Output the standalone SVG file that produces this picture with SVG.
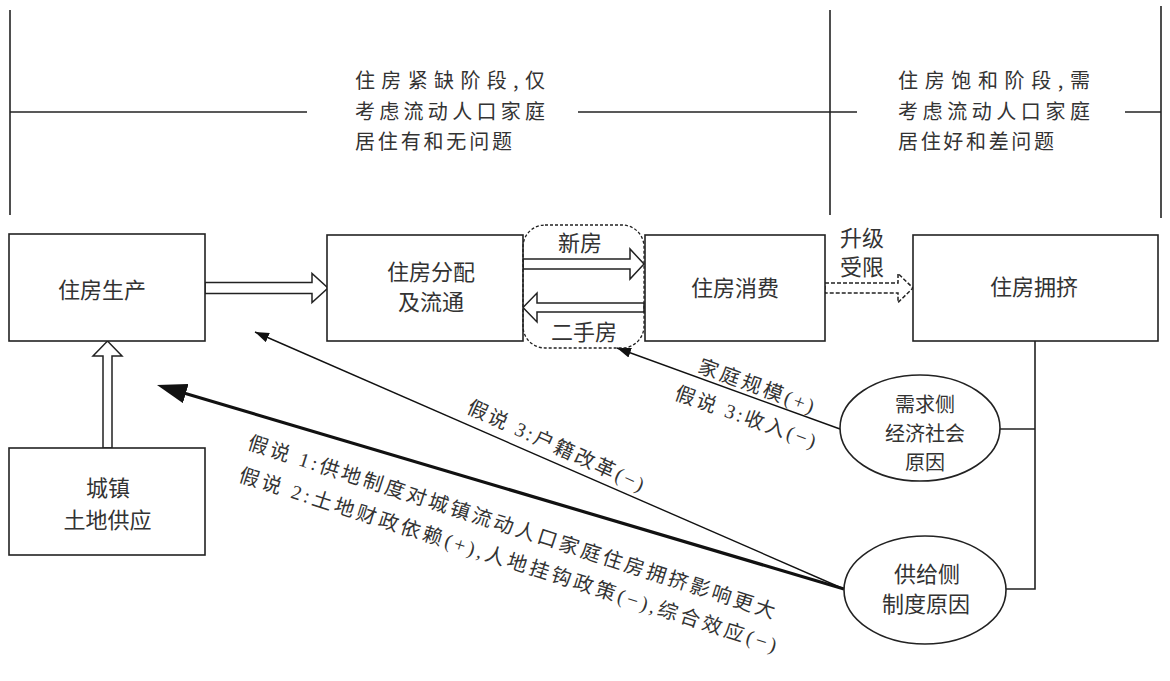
<svg xmlns="http://www.w3.org/2000/svg" width="1170" height="681" viewBox="0 0 1170 681">
<style>
.box{fill:#fff;stroke:#222;stroke-width:1.6}
.ell{fill:#fff;stroke:#222;stroke-width:1.6}
.ln{fill:none;stroke:#222;stroke-width:1.6}
.hollow{fill:#fff;stroke:#222;stroke-width:1.5;stroke-linejoin:miter}
.dash{stroke-dasharray:4 2}
.t{font-family:"Noto Sans CJK SC","Noto Sans",sans-serif;font-size:22px;fill:#333;text-anchor:middle}
.ts{font-size:20px}
.tl{font-family:"Noto Sans CJK SC","Noto Sans",sans-serif;font-size:20px;fill:#333}
.lab{font-family:"Liberation Serif","Noto Sans CJK SC",serif;font-size:20px;fill:#333;text-anchor:middle}
</style>
<defs>
<marker id="ahS" markerUnits="userSpaceOnUse" markerWidth="14" markerHeight="10" viewBox="0 0 14 10" refX="14" refY="5" orient="auto"><path d="M0,0 L14,5 L0,10 z" fill="#111"/></marker>
<marker id="ahL" markerUnits="userSpaceOnUse" markerWidth="30" markerHeight="20" viewBox="0 0 30 20" refX="10" refY="10" orient="auto"><path d="M0,0 L30,10 L0,20 z" fill="#111"/></marker>
</defs>
<rect width="1170" height="681" fill="#fff"/>

<g id="stages">
<line class="ln" x1="10" y1="10" x2="10" y2="215"/>
<line class="ln" x1="830" y1="10" x2="830" y2="215"/>
<line class="ln" x1="1161" y1="6" x2="1161" y2="218"/>
<line class="ln" x1="10" y1="112" x2="307" y2="112"/>
<line class="ln" x1="578" y1="112" x2="857" y2="112"/>
<line class="ln" x1="1125" y1="112" x2="1161" y2="112"/>
<text class="tl" x="355" y="88" textLength="190" lengthAdjust="spacing">住房紧缺阶段,仅</text>
<text class="tl" x="355" y="119" textLength="190" lengthAdjust="spacing">考虑流动人口家庭</text>
<text class="tl" x="355" y="149" textLength="157" lengthAdjust="spacing">居住有和无问题</text>
<text class="tl" x="898" y="88" textLength="192" lengthAdjust="spacing">住房饱和阶段,需</text>
<text class="tl" x="898" y="119" textLength="192" lengthAdjust="spacing">考虑流动人口家庭</text>
<text class="tl" x="898" y="149" textLength="156" lengthAdjust="spacing">居住好和差问题</text>
</g>

<g id="connectors">
<polygon class="hollow" points="205,282.5 312,282.5 312,273.5 328,288 312,302.5 312,293.5 205,293.5"/>
<polygon class="hollow" points="523,259 630,259 630,249 644,264 630,279 630,269 523,269"/>
<polygon class="hollow" points="644,303 537,303 537,293 523,307.5 537,322 537,312 644,312"/>
<polygon class="hollow" points="103,448 103,356 93,356 107.5,341 122,356 112,356 112,448"/>
<polygon class="hollow dash" points="825,283 898,283 898,273.5 913,288 898,302.5 898,293 825,293"/>
<polyline class="ln" points="1035,341 1035,589 1006,589"/>
<line class="ln" x1="1035" y1="429" x2="1000" y2="429"/>
<line x1="840" y1="429" x2="617" y2="348" stroke="#111" stroke-width="1.4" marker-end="url(#ahS)"/>
<line x1="844" y1="589" x2="255" y2="332" stroke="#111" stroke-width="1.4" marker-end="url(#ahS)"/>
<line x1="844" y1="589" x2="176.2" y2="390.7" stroke="#111" stroke-width="3.2" marker-end="url(#ahL)"/>
<text class="t" x="580" y="251">新房</text>
<text class="t" x="584" y="340">二手房</text>
<text class="t"><tspan x="862" y="246">升级</tspan><tspan x="862" y="275">受限</tspan></text>
<text class="lab" transform="translate(754,392.5) rotate(20)" textLength="122" lengthAdjust="spacing">家庭规模(+)</text>
<text class="lab" transform="translate(743.3,423.5) rotate(19.6)" textLength="148" lengthAdjust="spacing">假说 3:收入(−)</text>
<text class="lab" transform="translate(553,452) rotate(24.5)" textLength="192" lengthAdjust="spacing">假说 3:户籍改革(−)</text>
<text class="lab" transform="translate(509.5,533.6) rotate(17.9)" textLength="553" lengthAdjust="spacing">假说 1:供地制度对城镇流动人口家庭住房拥挤影响更大</text>
<text class="lab" transform="translate(506,566.6) rotate(17.7)" textLength="563" lengthAdjust="spacing">假说 2:土地财政依赖(+),人地挂钩政策(−),综合效应(−)</text>
</g>

<g id="n-production">
<rect class="box" x="9" y="234" width="196" height="107"/>
<text class="t" x="102" y="298">住房生产</text>
</g>
<g id="n-distribution">
<rect class="box" x="327" y="235" width="196" height="106"/>
<text class="t"><tspan x="431" y="280">住房分配</tspan><tspan x="431" y="310">及流通</tspan></text>
</g>
<g id="n-market">
<rect x="523" y="225" width="121" height="123" rx="22" ry="22" fill="none" stroke="#222" stroke-width="1.3" stroke-dasharray="3 2"/>
</g>
<g id="n-consumption">
<rect class="box" x="645" y="235" width="180" height="106"/>
<text class="t" x="735" y="296">住房消费</text>
</g>
<g id="n-crowding">
<rect class="box" x="913" y="235" width="245" height="106"/>
<text class="t" x="1034" y="295">住房拥挤</text>
</g>
<g id="n-land">
<rect class="box" x="9" y="448" width="196" height="107"/>
<text class="t"><tspan x="108" y="496">城镇</tspan><tspan x="107.5" y="528">土地供应</tspan></text>
</g>
<g id="n-demand">
<ellipse class="ell" cx="920" cy="428" rx="80" ry="53"/>
<text class="t ts"><tspan x="925" y="412">需求侧</tspan><tspan x="925" y="441">经济社会</tspan><tspan x="925" y="470">原因</tspan></text>
</g>
<g id="n-supply">
<ellipse class="ell" cx="925" cy="590" rx="81" ry="54"/>
<text class="t"><tspan x="927" y="582">供给侧</tspan><tspan x="926" y="612">制度原因</tspan></text>
</g>
</svg>
